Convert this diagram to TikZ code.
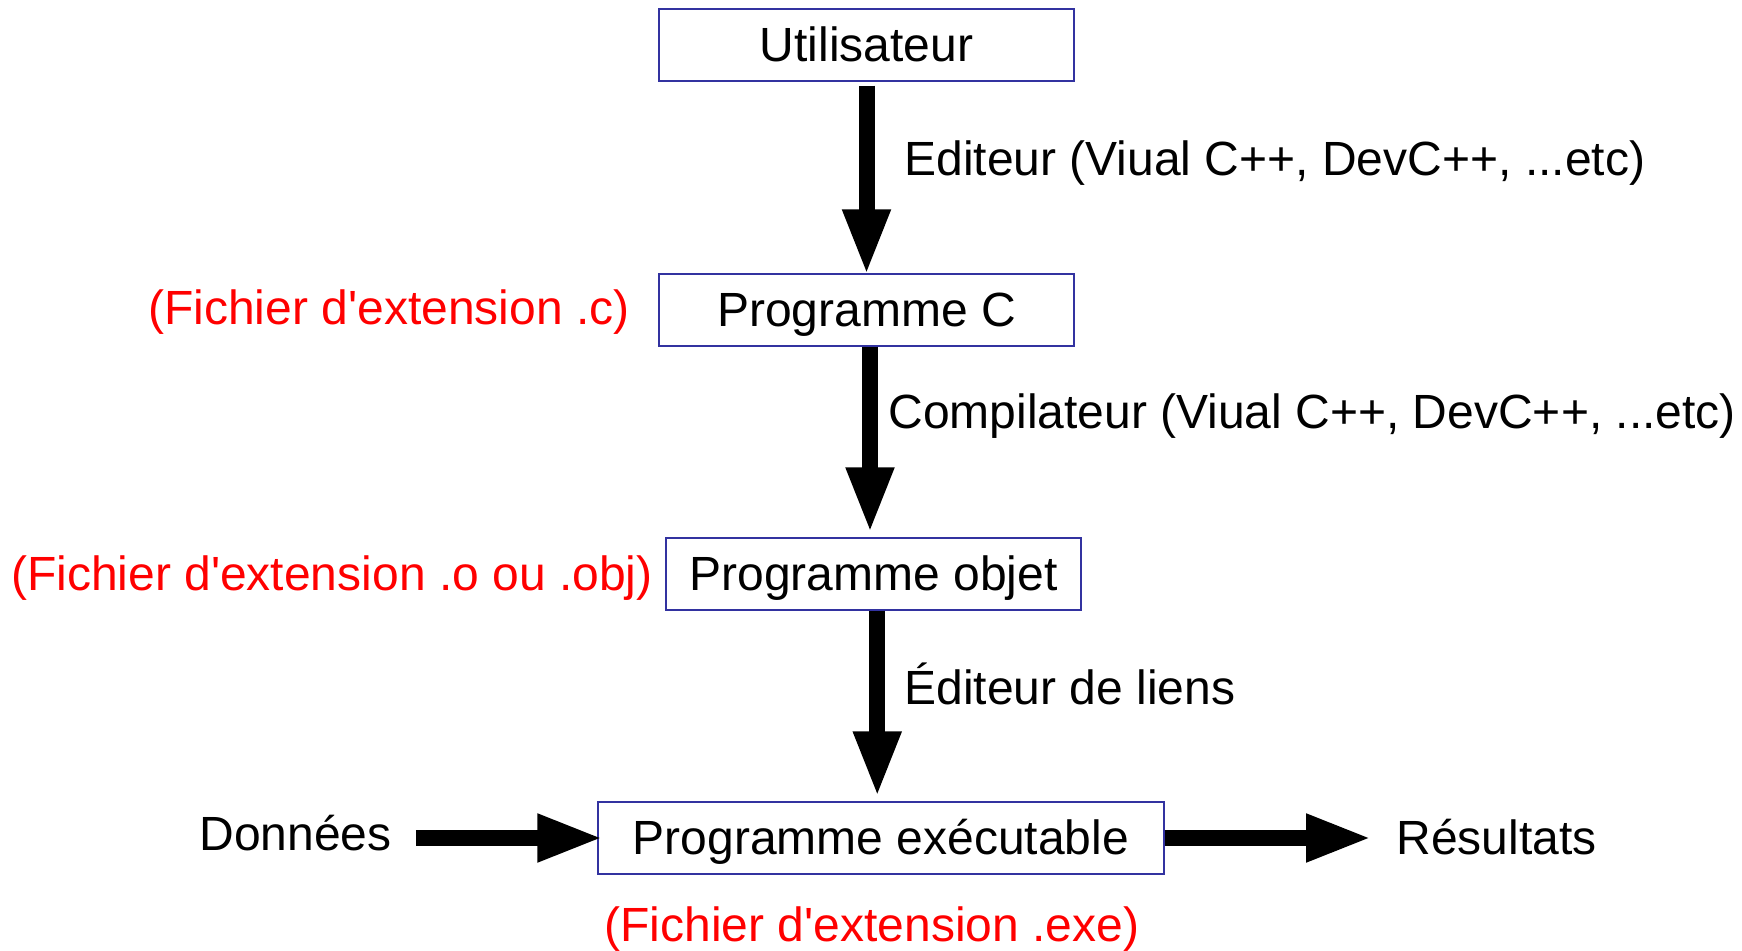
\documentclass[tikz,border=0pt]{standalone}
\usepackage{fontspec}
\setmainfont{Liberation Sans}
\usetikzlibrary{arrows.meta,calc}
\definecolor{boxblue}{RGB}{50,50,160}
\begin{document}
\begin{tikzpicture}[x=0.5pt,y=-0.5pt,
  every node/.style={font=\fontsize{24}{29}\selectfont, inner sep=0pt, text height=21.72pt, text depth=5.09pt},
  box/.style={draw=boxblue, line width=0.7pt, minimum width=207.5pt, minimum height=36pt, inner sep=0pt},
  bigarrow/.style={line width=8pt, -{Triangle[length=33pt,width=22pt]}},
  note/.style={text=red},
]
\useasboundingbox (0,0) rectangle (1742,951);
% boxes
\node[box] (u)  at (866.5,45)  {Utilisateur};
\node[box] (pc) at (866.5,310) {Programme C};
\node[box] (po) at (873.5,574) {Programme objet};
\node[box, minimum width=283pt] (pe) at (881,838) {Programme exécutable};
% red notes
\node[note, anchor=east] (nc) at (630,308) {(Fichier d\textquotesingle extension .c)};
\node[note, anchor=east] (no) at (653,574) {(Fichier d\textquotesingle extension .o ou .obj)};
\node[note, anchor=north] (ne) at (872,898) {(Fichier d\textquotesingle extension .exe)};
% arrow labels
\node[anchor=west] (l1) at (904,159) {Editeur (Viual C++, DevC++, ...etc)};
\node[anchor=west] (l2) at (888,412) {Compilateur (Viual C++, DevC++, ...etc)};
\node[anchor=west] (l3) at (904,688) {Éditeur de liens};
% inputs / outputs
\node[anchor=west] (don) at (199,834) {Données};
\node[anchor=west] (res) at (1396,838) {Résultats};
% arrows
\draw[bigarrow, shorten <=2pt, shorten >=-1pt] (u.south) -- (pc.north);
\coordinate (m2) at ($(pc.south)!.5!(po.north)$);
\draw[bigarrow, shorten >=2pt] (pc.south -| m2) -- (po.north -| m2);
\coordinate (m3) at ($(po.south)!.5!(pe.north)$);
\draw[bigarrow, shorten >=2pt] (po.south -| m3) -- (pe.north -| m3);
\draw[bigarrow, shorten <=12pt, shorten >=-3pt] (don.east |- pe.west) -- (pe.west);
\draw[bigarrow, shorten >=12pt] (pe.east) -- (res.west |- pe.east);
\end{tikzpicture}
\end{document}
